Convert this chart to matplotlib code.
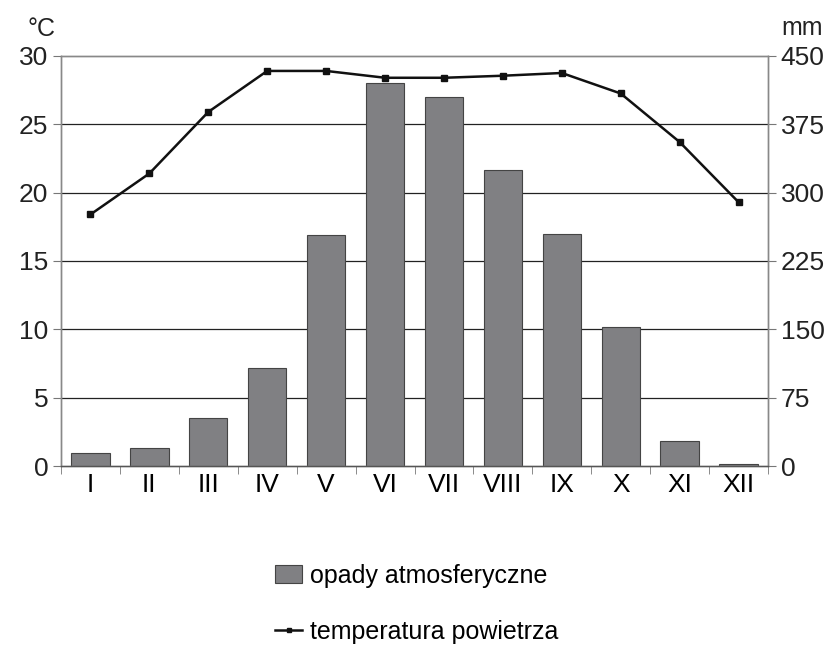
import numpy as np
import matplotlib.pyplot as plt
from matplotlib.ticker import FixedLocator

plt.rcParams['font.family'] = ['Liberation Sans', 'DejaVu Sans']

# dane klimatyczne
miesiace = ["I", "II", "III", "IV", "V", "VI", "VII", "VIII", "IX", "X", "XI", "XII"]
opady = [14, 20, 53, 108, 253, 420, 405, 325, 255, 153, 27, 2]  # mm
temperatura = [18.4, 21.4, 25.9, 28.9, 28.9, 28.4, 28.4, 28.55, 28.75, 27.25, 23.7, 19.3]  # °C

fig = plt.figure(figsize=(8.33, 6.5), dpi=100)
ax = fig.add_axes([0.0732, 0.283, 0.8488, 0.631])
ax2 = ax.twinx()

x = np.arange(len(miesiace))

# słupki opadów na prawej osi
ax2.bar(x, opady, width=0.65, color="#808083", edgecolor="#444444", linewidth=0.8,
        label="opady atmosferyczne", zorder=2)
ax2.set_ylim(0, 450)
ax2.set_yticks([0, 75, 150, 225, 300, 375, 450])

# linia temperatury na lewej osi (nad słupkami)
ax.set_zorder(ax2.get_zorder() + 1)
ax.patch.set_visible(False)
ax.plot(x, temperatura, color="#111111", lw=1.8, marker="s", markersize=4,
        label="temperatura powietrza", zorder=3)
ax.set_ylim(0, 30)
ax.set_yticks([0, 5, 10, 15, 20, 25, 30])
ax.set_xlim(-0.5, 11.5)

# siatka pozioma na osi słupków (pod słupkami)
for v in [75, 150, 225, 300, 375]:
    ax2.axhline(v, color="#222222", lw=0.9, zorder=1)

ax.set_xticks(x)
ax.set_xticklabels(miesiace)
ax.xaxis.set_minor_locator(FixedLocator(np.arange(-0.5, 12, 1)))
ax.tick_params(axis="x", which="major", length=0, pad=5, labelsize=19)
ax.tick_params(axis="x", which="minor", length=6, color="#777777", direction="out")
ax.tick_params(axis="y", length=6, color="#777777", labelsize=19, pad=3, labelcolor="#222222")
ax2.tick_params(axis="y", length=6, color="#777777", labelsize=19, pad=3, labelcolor="#222222")

for a in (ax, ax2):
    for s in a.spines.values():
        s.set_color("#888888")
        s.set_linewidth(1.0)
ax.spines["bottom"].set_color("#555555")

fig.text(0.033, 0.955, "°C", fontsize=18, ha="left", va="center", color="#222222")
fig.text(0.938, 0.957, "mm", fontsize=18, ha="left", va="center", color="#222222")

h1, l1 = ax2.get_legend_handles_labels()
h2, l2 = ax.get_legend_handles_labels()
leg = fig.legend(h1 + h2, l1 + l2, loc="center", bbox_to_anchor=(0.5, 0.071),
                 frameon=False, fontsize=18, labelspacing=1.3, handlelength=1.1,
                 handletextpad=0.3, ncol=1)
for ln in leg.get_lines():
    ln.set_markersize(3)

fig.savefig("out.png", dpi=100)
